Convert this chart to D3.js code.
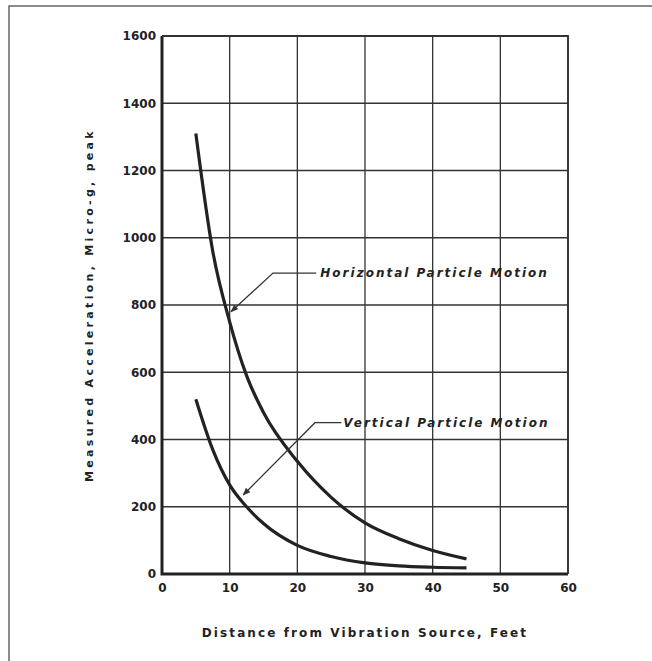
<!DOCTYPE html>
<html>
<head>
<meta charset="utf-8">
<script src="https://cdn.jsdelivr.net/npm/d3@7/dist/d3.min.js"></script>
<style>
  body { margin: 0; background: #fff; }
  text { font-family: "DejaVu Sans", sans-serif; fill: #222; }
</style>
</head>
<body>
<svg id="chart" width="652" height="661"></svg>
<script>
// values
const distance = [5, 7.5, 10, 12.5, 15, 20, 25, 30, 35, 40, 45]
const horizontal = [1310, 960, 750, 590, 480, 335, 228, 152, 105, 70, 45]
const vertical = [520, 370, 265, 200, 150, 85, 52, 33, 24, 20, 18]
const xTicks = [0, 10, 20, 30, 40, 50, 60]
const yTicks = [0, 200, 400, 600, 800, 1000, 1200, 1400, 1600]

const svg = d3.select('#chart')

// page edge of the scan
svg.append('path')
  .attr('d', 'M 9 661 L 9 6 L 652 6')
  .attr('fill', 'none')
  .attr('stroke', '#666')
  .attr('stroke-width', 1.5)

const margin = { left: 162, right: 84, top: 36, bottom: 87 }
const w = 652 - margin.left - margin.right
const h = 661 - margin.top - margin.bottom

const x = d3.scaleLinear().domain([0, 60]).range([0, w])
const y = d3.scaleLinear().domain([0, 1600]).range([h, 0])

const g = svg.append('g')
  .attr('transform', `translate(${margin.left},${margin.top})`)

// grid
g.append('g')
  .attr('class', 'grid')
  .selectAll('line.v')
  .data(xTicks)
  .join('line')
  .attr('x1', d => x(d)).attr('x2', d => x(d))
  .attr('y1', 0).attr('y2', h)
  .attr('stroke', '#333')
  .attr('stroke-width', 1.3)

g.append('g')
  .selectAll('line')
  .data(yTicks)
  .join('line')
  .attr('x1', 0).attr('x2', w)
  .attr('y1', d => y(d)).attr('y2', d => y(d))
  .attr('stroke', '#333')
  .attr('stroke-width', 1.3)

// heavy left / bottom axis lines
g.append('path')
  .attr('d', `M 0 0 L 0 ${h} L ${w} ${h}`)
  .attr('fill', 'none')
  .attr('stroke', '#222')
  .attr('stroke-width', 3)

g.append('path')
  .attr('d', `M 0 0 L ${w} 0 L ${w} ${h}`)
  .attr('fill', 'none')
  .attr('stroke', '#333')
  .attr('stroke-width', 1.8)

// axes (labels only)
const xAxis = g.append('g')
  .attr('transform', `translate(0,${h})`)
  .call(d3.axisBottom(x).tickValues(xTicks).tickFormat(d3.format('d')).tickSize(0).tickPadding(9))
xAxis.select('.domain').remove()
xAxis.selectAll('text')
  .style('font-size', '12px')
  .style('font-weight', 'bold')
  .attr('fill', '#333')

const yAxis = g.append('g')
  .call(d3.axisLeft(y).tickValues(yTicks).tickFormat(d3.format('d')).tickSize(0).tickPadding(6))
yAxis.select('.domain').remove()
yAxis.selectAll('text')
  .style('font-size', '12px')
  .style('font-weight', 'bold')
  .attr('fill', '#333')

// curves
const line = d3.line()
  .x(d => x(d[0]))
  .y(d => y(d[1]))
  .curve(d3.curveMonotoneX)

g.append('path')
  .datum(distance.map((d, i) => [d, horizontal[i]]))
  .attr('fill', 'none')
  .attr('stroke', '#222')
  .attr('stroke-width', 3.2)
  .attr('d', line)

g.append('path')
  .datum(distance.map((d, i) => [d, vertical[i]]))
  .attr('fill', 'none')
  .attr('stroke', '#222')
  .attr('stroke-width', 3.2)
  .attr('d', line)

// annotation leaders (data coordinates)
svg.append('defs').append('marker')
  .attr('id', 'arr')
  .attr('viewBox', '0 0 10 10')
  .attr('refX', 9).attr('refY', 5)
  .attr('markerWidth', 6).attr('markerHeight', 6)
  .attr('orient', 'auto')
  .append('path')
  .attr('d', 'M 0 1 L 10 5 L 0 9 z')
  .attr('fill', '#333')

function leader (pts) {
  g.append('path')
    .attr('d', d3.line().x(d => x(d[0])).y(d => y(d[1]))(pts))
    .attr('fill', 'none')
    .attr('stroke', '#333')
    .attr('stroke-width', 1.3)
    .attr('marker-end', 'url(#arr)')
}
leader([[22.8, 895], [16.4, 895], [10.2, 780]])
leader([[26.5, 450], [22.6, 450], [12.0, 235]])

function note (text, dx, dy) {
  g.append('text')
    .attr('x', x(dx))
    .attr('y', y(dy))
    .attr('dy', '0.35em')
    .style('font-size', '12px')
    .style('font-style', 'italic')
    .style('font-weight', 'bold')
    .style('letter-spacing', '2px')
    .attr('fill', '#333')
    .text(text)
}
note('Horizontal Particle Motion', 23.4, 895)
note('Vertical Particle Motion', 26.8, 450)

// axis titles
svg.append('text')
  .attr('x', margin.left + x(30))
  .attr('y', 637)
  .attr('text-anchor', 'middle')
  .style('font-size', '12px')
  .style('font-weight', 'bold')
  .style('letter-spacing', '2.1px')
  .attr('fill', '#333')
  .text('Distance from Vibration Source, Feet')

svg.append('text')
  .attr('transform', `translate(93,${margin.top + y(800)}) rotate(-90)`)
  .attr('text-anchor', 'middle')
  .style('font-size', '11px')
  .style('font-weight', 'bold')
  .style('letter-spacing', '3.3px')
  .attr('fill', '#333')
  .text('Measured Acceleration, Micro-g, peak')
</script>
</body>
</html>
